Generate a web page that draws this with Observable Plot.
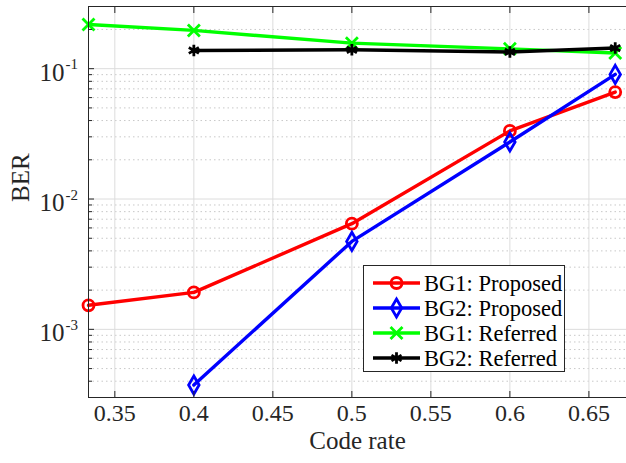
<!DOCTYPE html>
<html><head><meta charset="utf-8">
<script src="https://cdn.jsdelivr.net/npm/d3@7"></script>
<script src="https://cdn.jsdelivr.net/npm/@observablehq/plot@0.6"></script>
<style>
body{margin:0;background:#fff;overflow:hidden}
#chart svg{background:#fff}
</style>
</head><body><div id="chart"></div>
<script>
const codeRates = [1/3, 0.4, 0.5, 0.6, 2/3];
const seriesNames = ["BG1: Proposed", "BG2: Proposed", "BG1: Referred", "BG2: Referred"];
const bg1Proposed = [1.53e-3, 1.92e-3, 6.47e-3, 0.0333, 0.0662];
const bg2Proposed = [null, 3.74e-4, 4.73e-3, 0.0274, 0.0904];
const bg1Referred = [0.2185, 0.1966, 0.157, 0.142, 0.132];
const bg2Referred = [null, 0.138, 0.1397, 0.1344, 0.144];
const seriesColors = ["#ff0000", "#0000ff", "#00ff00", "#000000"];
const seriesSymbols = ["circle", "diamond", "times", "asterisk"];
const xTicks = [0.35, 0.4, 0.45, 0.5, 0.55, 0.6, 0.65];
const xTickLabels = ["0.35", "0.4", "0.45", "0.5", "0.55", "0.6", "0.65"];
const yMajorTicks = [1e-3, 1e-2, 1e-1];
const yTickExponents = ["-3", "-2", "-1"];
const yMinorTicks = [3e-4,4e-4,5e-4,6e-4,7e-4,8e-4,9e-4,2e-3,3e-3,4e-3,5e-3,6e-3,7e-3,8e-3,9e-3,2e-2,3e-2,4e-2,5e-2,6e-2,7e-2,8e-2,9e-2,2e-1,3e-1];
const xLabel = "Code rate";
const yLabel = "BER";

const allSeries = [bg1Proposed, bg2Proposed, bg1Referred, bg2Referred];
const data = [];
allSeries.forEach((vals, s) => vals.forEach((v, i) => {
  if (v != null) data.push({series: seriesNames[s], rate: codeRates[i], ber: v});
}));

const xDomain = [1/3, 0.6738];
const yDomain = [3e-4, 0.3];
const axisColor = "#262626";
const serif = "Liberation Serif";
const markerR = 5.5;

const seriesMarks = seriesNames.flatMap(name => {
  const d = data.filter(r => r.series === name);
  return [
    Plot.line(d, {x: "rate", y: "ber", stroke: "series", strokeWidth: 3.4}),
    Plot.dot(d, {x: "rate", y: "ber", stroke: "series", symbol: "series", r: markerR, strokeWidth: 2.8, fill: "none"})
  ];
});

const expOf = d => yTickExponents[yMajorTicks.indexOf(d)];
const xLabOf = d => xTickLabels[xTicks.indexOf(d)];

const chart = Plot.plot({
  width: 626,
  height: 463,
  marginLeft: 88,
  marginRight: 0,
  marginTop: 6,
  marginBottom: 66,
  x: {domain: xDomain, axis: null},
  y: {type: "log", domain: yDomain, axis: null},
  color: {domain: seriesNames, range: seriesColors},
  symbol: {domain: seriesNames, range: seriesSymbols},
  marks: [
    Plot.gridY(yMinorTicks, {stroke: "#c8c8c8", strokeOpacity: 1, strokeDasharray: "1.5,3"}),
    Plot.gridX(xTicks, {stroke: "#dcdcdc", strokeOpacity: 1}),
    Plot.gridY(yMajorTicks, {stroke: "#dcdcdc", strokeOpacity: 1}),
    ...seriesMarks,
    Plot.ruleY(yDomain, {stroke: axisColor, strokeWidth: 1}),
    Plot.ruleX([xDomain[0]], {stroke: axisColor, strokeWidth: 1}),
    Plot.axisX({ticks: xTicks, anchor: "bottom", tickSize: -6, text: null, stroke: axisColor, label: null}),
    Plot.axisX({ticks: xTicks, anchor: "top", tickSize: -6, text: null, stroke: axisColor, label: null}),
    Plot.axisY({ticks: yMinorTicks, anchor: "left", tickSize: -4, text: null, stroke: axisColor, label: null}),
    Plot.axisY({ticks: yMajorTicks, anchor: "left", tickSize: -6, text: null, stroke: axisColor, label: null}),
    // x tick labels
    Plot.text(xTicks, {x: d => d, frameAnchor: "bottom", text: xLabOf, dy: 23.5,
      fontFamily: serif, fontSize: 24, fill: axisColor}),
    // log tick labels: base "10" and superscript exponent
    Plot.text(yMajorTicks, {y: d => d, frameAnchor: "left", text: () => "10", textAnchor: "end",
      dx: -24, dy: 4, fontFamily: serif, fontSize: 25, fill: axisColor}),
    Plot.text(yMajorTicks, {y: d => d, frameAnchor: "left", text: expOf, textAnchor: "start",
      dx: -23, dy: -4, fontFamily: serif, fontSize: 15, fill: axisColor}),
    Plot.text([xLabel], {frameAnchor: "bottom", dy: 51, fontFamily: serif, fontSize: 25, fill: axisColor}),
    Plot.text([yLabel], {frameAnchor: "left", rotate: -90, dx: -68, fontFamily: serif, fontSize: 25, fill: axisColor})
  ]
});

// legend
const svg = d3.select(chart);
const lg = svg.append("g").attr("class", "legend");
lg.append("rect").attr("x", 363.5).attr("y", 265.5).attr("width", 201).attr("height", 106)
  .attr("fill", "#fff").attr("stroke", axisColor).attr("stroke-width", 1);
const symMap = {circle: d3.symbolCircle, diamond: d3.symbolDiamond, times: d3.symbolTimes, asterisk: d3.symbolAsterisk};
seriesNames.forEach((name, i) => {
  const cy = 283 + i * 25;
  lg.append("line").attr("x1", 373).attr("x2", 420).attr("y1", cy).attr("y2", cy)
    .attr("stroke", seriesColors[i]).attr("stroke-width", 3.4);
  lg.append("path").attr("transform", `translate(396.5,${cy})`)
    .attr("d", d3.symbol(symMap[seriesSymbols[i]], markerR * markerR * Math.PI)())
    .attr("fill", "none").attr("stroke", seriesColors[i]).attr("stroke-width", 2.8);
  lg.append("text").attr("x", 424).attr("y", cy).attr("dy", "0.34em")
    .attr("text-anchor", "start")
    .attr("font-family", serif).attr("font-size", 22.5)
    .attr("fill", "#000").text(name);
});

document.getElementById("chart").appendChild(chart);
</script>
</body></html>
